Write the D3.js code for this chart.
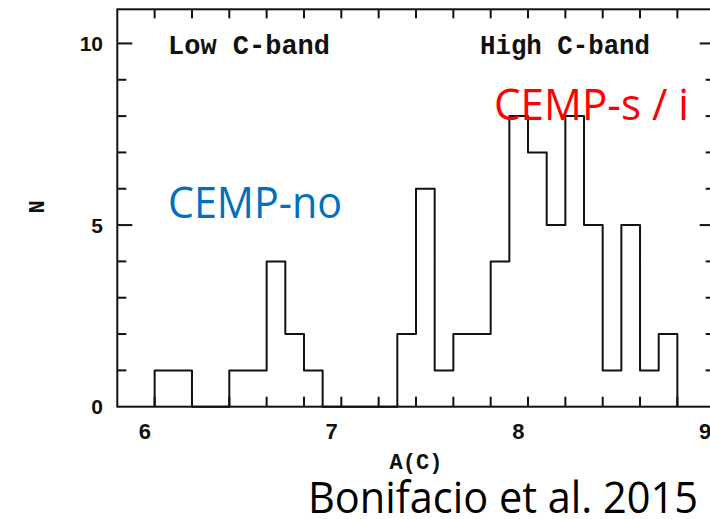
<!DOCTYPE html>
<html>
<head>
<meta charset="utf-8">
<script src="https://cdn.jsdelivr.net/npm/d3@7"></script>
<style>
  html, body { margin: 0; padding: 0; background: #fff; }
  svg { display: block; }
</style>
</head>
<body>
<div id="chart"></div>
<script>
// Histogram of carbon abundance A(C), bin width 0.1
const binLeft = [6.1, 6.2, 6.3, 6.4, 6.5, 6.6, 6.7, 6.8, 6.9, 7.0, 7.1, 7.2, 7.3, 7.4,
                 7.5, 7.6, 7.7, 7.8, 7.9, 8.0, 8.1, 8.2, 8.3, 8.4, 8.5, 8.6, 8.7, 8.8];
const counts  = [1, 1, 0, 0, 1, 1, 4, 2, 1, 0, 0, 0, 0, 2,
                 6, 1, 2, 2, 4, 8, 7, 5, 8, 5, 1, 5, 1, 2];
const binWidth = 0.1;

const xMajorTicks = [6, 7, 8, 9];
const yMajorTicks = [0, 5, 10];
const xMinorStep = 0.2;
const yMinorStep = 1;

const bandLabels = ["Low C-band", "High C-band"];
const groupLabels = ["CEMP-no", "CEMP-s / i"];
const sourceLabel = "Bonifacio et al. 2015";

const W = 710, H = 519;
const frame = { left: 117.3, right: 714.7, top: 9.3, bottom: 406.7 };

const x = d3.scaleLinear().domain([5.9, 9.1]).range([frame.left, frame.right]);
const y = d3.scaleLinear().domain([0, 10.94]).range([frame.bottom, frame.top]);

const svg = d3.select("#chart").append("svg")
  .attr("width", W).attr("height", H);

const ink = "#111";
const majorLen = 15, minorLen = 9;

// frame box
svg.append("rect")
  .attr("x", frame.left).attr("y", frame.top)
  .attr("width", frame.right - frame.left).attr("height", frame.bottom - frame.top)
  .attr("fill", "none").attr("stroke", ink).attr("stroke-width", 2);

// tick marks on all four sides, pointing inward
const xMinor = d3.range(5.9, 9.1 + 1e-9, xMinorStep).map(v => +v.toFixed(2))
  .filter(v => v > 5.95 && v < 9.05);
const yMinor = d3.range(1, 11, yMinorStep);

const ticks = svg.append("g").attr("stroke", ink).attr("stroke-width", 2);
xMinor.forEach(v => {
  const isMajor = xMajorTicks.some(m => Math.abs(m - v) < 1e-6);
  const len = isMajor ? majorLen : minorLen;
  ticks.append("line").attr("x1", x(v)).attr("x2", x(v))
    .attr("y1", frame.bottom).attr("y2", frame.bottom - len - (isMajor ? 2 : 1));
  ticks.append("line").attr("x1", x(v)).attr("x2", x(v))
    .attr("y1", frame.top).attr("y2", frame.top + len);
});
yMinor.forEach(v => {
  const isMajor = yMajorTicks.includes(v);
  const len = isMajor ? majorLen : minorLen;
  ticks.append("line").attr("y1", y(v)).attr("y2", y(v))
    .attr("x1", frame.left).attr("x2", frame.left + len);
  ticks.append("line").attr("y1", y(v)).attr("y2", y(v))
    .attr("x1", frame.right).attr("x2", frame.right - len);
});

// tick labels
const numFont = "'Liberation Sans', Arial, sans-serif";
svg.append("g").selectAll("text").data(xMajorTicks).join("text")
  .attr("x", d => x(d) + 9).attr("y", 439)
  .attr("text-anchor", "middle")
  .attr("font-family", numFont).attr("font-weight", "bold").attr("font-size", 22)
  .attr("fill", ink).text(d => d);
svg.append("g").selectAll("text").data(yMajorTicks).join("text")
  .attr("x", 103).attr("y", d => y(d)).attr("dy", "0.36em")
  .attr("text-anchor", "end")
  .attr("font-family", numFont).attr("font-weight", "bold").attr("font-size", 21)
  .attr("fill", ink).text(d => d);

// axis titles
const monoFont = "'Liberation Mono', 'DejaVu Sans Mono', monospace";
svg.append("text")
  .attr("x", 416).attr("y", 469).attr("text-anchor", "middle")
  .attr("font-family", monoFont).attr("font-weight", "bold").attr("font-size", 22)
  .attr("fill", ink).text("A(C)");
svg.append("text")
  .attr("transform", "translate(44,207) rotate(-90)")
  .attr("text-anchor", "middle")
  .attr("font-family", monoFont).attr("font-weight", "bold").attr("font-size", 22)
  .attr("fill", ink).text("N");

// band annotations
svg.append("text")
  .attr("x", 168).attr("y", 53.5)
  .attr("font-family", monoFont).attr("font-weight", "bold").attr("font-size", 27)
  .attr("textLength", 162).attr("lengthAdjust", "spacingAndGlyphs")
  .attr("fill", ink).text(bandLabels[0]);
svg.append("text")
  .attr("x", 480).attr("y", 53.5)
  .attr("font-family", monoFont).attr("font-weight", "bold").attr("font-size", 27)
  .attr("textLength", 170).attr("lengthAdjust", "spacingAndGlyphs")
  .attr("fill", ink).text(bandLabels[1]);

// histogram outline
const pts = [[binLeft[0], 0]];
binLeft.forEach((b, i) => {
  pts.push([b, counts[i]]);
  pts.push([b + binWidth, counts[i]]);
});
pts.push([binLeft[binLeft.length - 1] + binWidth, 0]);

svg.append("path")
  .attr("d", d3.line().x(d => x(d[0])).y(d => y(d[1]))(pts))
  .attr("fill", "none").attr("stroke", ink).attr("stroke-width", 2)
  .attr("stroke-linejoin", "round");

// group and source labels
const sansFont = "'Open Sans', 'Noto Sans', sans-serif";
svg.append("text")
  .attr("x", 168).attr("y", 218.3)
  .attr("font-family", sansFont).attr("font-size", 44)
  .attr("textLength", 174).attr("lengthAdjust", "spacingAndGlyphs")
  .attr("fill", "#0070C0").text(groupLabels[0]);
svg.append("text")
  .attr("x", 494).attr("y", 120)
  .attr("font-family", sansFont).attr("font-size", 43)
  .attr("textLength", 195).attr("lengthAdjust", "spacingAndGlyphs")
  .attr("fill", "#FF0000").text(groupLabels[1]);
svg.append("text")
  .attr("x", 308).attr("y", 513.3)
  .attr("font-family", sansFont).attr("font-size", 44)
  .attr("textLength", 390).attr("lengthAdjust", "spacingAndGlyphs")
  .attr("fill", "#000").text(sourceLabel);
</script>
</body>
</html>
